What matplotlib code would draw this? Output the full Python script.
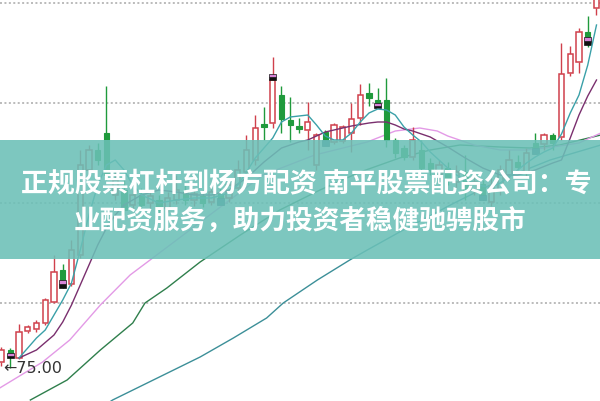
import matplotlib
matplotlib.use('Agg')
import matplotlib.pyplot as plt
from matplotlib.patches import Rectangle

# ---------------- data ----------------
opens = [75.6, 76.8, 76.0, 78.7, 78.9, 79.5, 81.6, 84.8, 83.4, 86.3,
         94.8, 96.8, 98.5, 92.3, 92.8, 91.3, 92.3, 91.5, 91.8, 91.0,
         91.8, 92.6, 91.8, 92.2, 91.6, 92.4, 92.0, 93.0, 94.6, 95.8,
         99.4, 99.5, 102.3, 99.8, 99.2, 98.8, 95.3, 98.6, 97.6, 97.7,
         98.5, 100.0, 102.5, 101.8, 101.8, 97.8, 97.0, 96.1, 96.8, 95.5,
         94.3, 95.0, 93.6, 94.6, 92.8, 93.4, 91.6, 92.8, 94.3, 95.6,
         94.5, 97.5, 97.4, 98.3, 98.1, 104.5, 105.6, 108.6, 111.0]
closes = [76.8, 76.4, 78.6, 79.1, 79.5, 81.8, 84.6, 83.8, 86.8, 95.3,
          96.8, 95.8, 94.3, 93.8, 90.8, 92.3, 91.3, 92.2, 90.8, 92.0,
          92.8, 91.8, 92.4, 91.5, 92.6, 91.8, 93.3, 94.8, 96.8, 99.0,
          99.1, 103.8, 99.9, 99.3, 98.9, 99.6, 98.3, 97.8, 99.3, 99.1,
          99.9, 102.3, 102.0, 101.5, 97.8, 96.5, 96.1, 97.8, 95.0, 94.8,
          95.3, 93.8, 94.6, 92.8, 93.6, 92.3, 93.2, 94.8, 95.8, 95.1,
          96.5, 97.0, 98.3, 97.5, 104.4, 106.4, 108.6, 108.1, 112.8]
highs = [77.1, 77.0, 79.4, 79.3, 79.8, 82.0, 86.3, 85.4, 87.8, 96.8,
         97.3, 97.5, 103.2, 94.8, 93.8, 92.8, 93.0, 92.8, 92.3, 92.6,
         94.3, 93.3, 93.0, 92.8, 93.2, 93.0, 93.8, 95.8, 98.3, 100.3,
         101.1, 106.1, 103.2, 102.1, 100.0, 101.6, 98.5, 98.8, 99.5, 99.3,
         101.5, 103.4, 103.5, 103.0, 104.0, 98.0, 97.3, 99.1, 97.8, 96.0,
         95.8, 95.6, 95.3, 96.3, 94.2, 93.8, 94.0, 95.3, 96.8, 96.3,
         97.0, 98.5, 98.5, 98.5, 107.5, 107.2, 109.0, 110.2, 113.3]
lows = [75.2, 75.0, 75.9, 78.5, 78.6, 79.3, 81.5, 83.0, 83.2, 86.0,
        94.3, 95.3, 93.8, 91.8, 90.3, 90.8, 90.8, 91.0, 90.3, 90.6,
        91.4, 91.3, 91.2, 91.1, 91.3, 91.4, 91.6, 92.6, 94.3, 95.3,
        97.8, 99.0, 98.5, 97.6, 98.5, 96.8, 94.8, 97.3, 97.4, 97.5,
        96.6, 99.3, 101.2, 101.0, 97.1, 96.0, 95.8, 95.8, 94.6, 94.3,
        93.8, 93.3, 93.0, 91.8, 92.3, 91.8, 91.2, 92.3, 93.8, 94.8,
        94.0, 96.6, 96.8, 96.8, 97.8, 104.2, 104.5, 107.1, 110.3]

ma5_idx = [2, 4, 5, 6, 7, 8, 9, 10, 11, 12, 13, 14, 15, 16, 18, 20, 22, 24, 26, 27,
           28, 29, 30, 31, 32, 33, 34, 35, 36, 37, 38, 39, 40, 41, 42, 43, 44, 45, 46, 47,
           48, 49, 50, 51, 52, 53, 54, 55, 56, 57, 58, 59, 60, 61, 62, 63, 64, 65, 66, 67, 68]
ma5_val = [76.0, 78.0, 78.8, 80.3, 81.8, 83.5, 86.8, 90.3, 93.3, 95.3, 95.8, 94.8, 93.3, 92.3,
           91.5, 91.8, 92.0, 92.0, 92.5, 93.3, 94.6, 96.0, 97.0, 98.0, 99.6, 100.1, 100.2, 100.3,
           99.3, 98.2, 97.8, 97.8, 98.5, 99.6, 100.5, 100.9, 100.8, 100.3, 99.1, 98.3, 97.6, 96.6,
           95.8, 95.0, 94.3, 93.8, 93.5, 93.2, 93.1, 93.5, 94.1, 94.8, 95.5, 96.1, 96.6, 97.0,
           98.4, 100.5, 102.3, 105.3, 109.3]

ma10_idx = [2, 4, 6, 7, 8, 9, 10, 11, 12, 13, 14, 16, 18, 20, 22, 24, 26, 28, 30, 32, 34, 35,
            36, 37, 39, 40, 42, 43, 44, 45, 46, 47, 49, 51, 53, 55, 57, 59, 61, 63, 64, 65, 66, 67, 68]
ma10_val = [76.0, 76.8, 78.3, 79.6, 81.3, 83.3, 85.3, 87.3, 89.0, 90.3, 91.3, 92.3, 92.8, 92.6,
            92.3, 92.3, 92.8, 94.0, 95.6, 97.0, 97.6, 97.8, 98.2, 98.6, 99.0, 99.2, 99.5, 99.6,
            99.6, 99.3, 98.9, 98.7, 98.1, 97.1, 96.0, 95.0, 94.3, 94.3, 94.8, 95.5, 95.8, 98.0,
            100.3, 102.2, 103.8]

ma20_idx = [-0.2, 4.7, 7.8, 11.3, 14.7, 18.5, 23.8, 29.9, 35.8, 41.8, 45, 47.8, 49.8, 51, 54,
            57, 60, 63, 66, 68.5]
ma20_val = [73.0, 75.6, 77.8, 81.3, 84.3, 86.8, 90.3, 94.3, 96.3, 97.6, 98.7, 99.0, 98.7, 98.2,
            97.3, 96.8, 96.8, 97.1, 97.5, 98.5]

ma30_idx = [3.3, 7.5, 11.3, 15, 16.4, 18.9, 22.7, 27.3, 31.8, 36.4, 41, 45.5, 49, 52.4, 57,
            60.4, 63.8, 68.5]
ma30_val = [71.8, 73.8, 76.8, 79.5, 81.5, 83.0, 85.6, 88.3, 90.8, 92.8, 94.6, 96.0, 96.8, 97.3,
            97.1, 97.0, 97.3, 98.3]

ma60_idx = [11, 12.7, 22.7, 26.5, 30.3, 32.2, 36.1, 39.8, 41.8, 45.5, 51.3, 57, 62.7, 68.5]
ma60_val = [70.8, 71.8, 76.1, 78.0, 80.0, 81.5, 83.8, 85.8, 86.8, 88.6, 91.3, 93.8, 95.8, 97.3]

# signal markers: candle index, top price, bottom price
mark_idx = [1, 7, 31, 43, 67]
mark_top = [76.5, 83.8, 104.4, 101.5, 108.1]
mark_bot = [76.0, 83.0, 103.8, 101.0, 107.3]
blue_idx = [25, 37, 55, 61]
blue_top = [92.0, 97.8, 92.3, 97.0]
blue_bot = [91.3, 97.2, 91.8, 96.4]

grid_levels = [111.5, 101.5, 91.5, 81.5]
low_label = "←75.00"
low_value = 75.0
title_line1 = "正规股票杠杆到杨方配资 南平股票配资公司：专"
title_line2 = "业配资服务，助力投资者稳健驰骋股市"

# ---------------- drawing ----------------
RED = '#d0404c'
GREEN = '#1f9a3c'

fig = plt.figure(figsize=(6, 4.01), dpi=100)
ax = fig.add_axes([0, 0, 1, 1])
ax.set_xlim(-0.17, 68.4)
ax.set_ylim(71.7, 111.8)
ax.axis('off')

for g in grid_levels:
    ax.axhline(g, color='#a8a8a8', lw=1.1, ls=(0, (1.3, 1.6)), zorder=1)

w = 0.62
for i, (o, c, h, l) in enumerate(zip(opens, closes, highs, lows)):
    top, bot = max(o, c), min(o, c)
    if c >= o:
        ax.plot([i, i], [top, h], color=RED, lw=1.0, zorder=3, solid_capstyle='butt')
        ax.plot([i, i], [l, bot], color=RED, lw=1.0, zorder=3, solid_capstyle='butt')
        ax.add_patch(Rectangle((i - w / 2, bot), w, max(top - bot, 0.05),
                               facecolor='white', edgecolor=RED, lw=1.1, zorder=3))
    else:
        ax.plot([i, i], [l, h], color=GREEN, lw=1.0, zorder=3, solid_capstyle='butt')
        ax.add_patch(Rectangle((i - w / 2, bot), w, max(top - bot, 0.1),
                               facecolor=GREEN, edgecolor=GREEN, lw=0.8, zorder=3))

for i, t, b in zip(mark_idx, mark_top, mark_bot):
    mid = (t + b) / 2
    ax.add_patch(Rectangle((i - 0.38, b), 0.76, mid - b, facecolor='#111111',
                           edgecolor='#111111', lw=0.5, zorder=4))
    ax.add_patch(Rectangle((i - 0.38, mid), 0.76, t - mid, facecolor='#d884d8',
                           edgecolor='#111111', lw=0.5, zorder=4))
for i, t, b in zip(blue_idx, blue_top, blue_bot):
    ax.add_patch(Rectangle((i - 0.38, b), 0.76, t - b, facecolor='#2e6f86',
                           edgecolor='#1d4c5e', lw=0.5, zorder=4))

ax.plot(ma60_idx, ma60_val, color='#3c8f98', lw=1.0, zorder=2)
ax.plot(ma30_idx, ma30_val, color='#2f7f4c', lw=1.0, zorder=2)
ax.plot(ma20_idx, ma20_val, color='#e39ae6', lw=1.0, zorder=2)
ax.plot(ma10_idx, ma10_val, color='#7a2f6e', lw=1.0, zorder=5)
ax.plot(ma5_idx, ma5_val, color='#3aa0a8', lw=1.0, zorder=5)

ax.text(0.17, low_value, low_label, ha='left', va='center', fontsize=11.5,
        color='#333333', family=['DejaVu Sans'], zorder=6)

# banner overlay
fig.patches.append(Rectangle((0, 1 - 259 / 401), 1, 119 / 401, transform=fig.transFigure,
                             facecolor='#6bc0b7', alpha=0.88, edgecolor='none', zorder=10))
fig.text(0.51, 1 - 183 / 401, title_line1, ha='center', va='center', color='white',
         fontsize=19.4, fontweight='bold', family=['Noto Sans CJK SC', 'DejaVu Sans'], zorder=11)
fig.text(0.5, 1 - 222 / 401, title_line2, ha='center', va='center', color='white',
         fontsize=19.2, fontweight='bold', family=['Noto Sans CJK SC', 'DejaVu Sans'], zorder=11)

fig.savefig('out.png', dpi=100)
